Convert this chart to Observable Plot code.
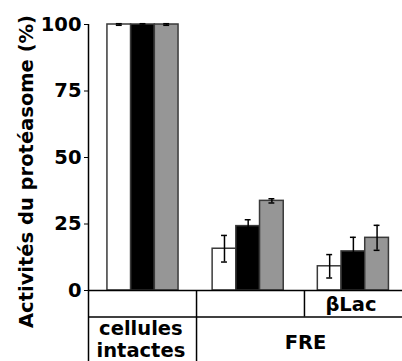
<!DOCTYPE html>
<html>
<head>
<meta charset="utf-8">
<script src="https://cdn.jsdelivr.net/npm/d3@7"></script>
<script src="https://cdn.jsdelivr.net/npm/@observablehq/plot@0.6"></script>
<style>
  html, body { margin: 0; padding: 0; background: #fff; }
  #chart svg { display: block; }
</style>
</head>
<body>
<div id="chart"></div>
<script>
// ---- data ----
const groups = ["cellules\nintactes", "FRE", "FRE βLac"];
const seriesNames = ["série 1", "série 2", "série 3"];
const seriesColors = ["#ffffff", "#000000", "#969696"];
const values = [
  [100, 100, 100],
  [15.7, 24.2, 33.7],
  [9.1, 14.7, 19.8]
];
const errors = [
  [0.3, 0.3, 0.3],
  [5.0, 2.4, 0.8],
  [4.4, 5.3, 4.7]
];
const yTicks = [0, 25, 50, 75, 100];
const yTitle = "Activités du protéasome (%)";

// table below the axis (category cells)
const tableRows = [0, -10];              // horizontal lines (y units)
const tableBottom = -27;
const colBreaks = [{x: 0.509, y1: tableBottom}, {x: 1.535, y1: -10}];
const cellLabels = [
  {text: "cellules\nintactes", x: -0.02, y: -18.2},
  {text: "FRE", x: 1.545, y: -19.2},
  {text: "βLac", x: 1.977, y: -5.1}
];

// ---- layout helpers ----
const barW = 0.2253;     // bar width in group units
const capW = 0.028;
const xDomain = [-0.518, 2.467];
const font = "'DejaVu Sans', 'Liberation Sans', Arial, sans-serif";
const fs = 19.5;

const bars = [];
groups.forEach((g, gi) => seriesNames.forEach((s, si) => {
  const x1 = gi + (si - 1.5) * barW;
  bars.push({group: g, series: s, gi, si, value: values[gi][si], err: errors[gi][si],
    x1, x2: x1 + barW, xc: x1 + barW / 2});
}));
const caps = bars.flatMap(d => [
  {x1: d.xc - capW, x2: d.xc + capW, y: d.value - d.err},
  {x1: d.xc - capW, x2: d.xc + capW, y: d.value + d.err}
]);

const chart = Plot.plot({
  width: 402,
  height: 361,
  marginLeft: 88,
  marginRight: 0,
  marginTop: 24,
  marginBottom: 71,
  style: {fontFamily: font, fontWeight: "bold", background: "#fff", overflow: "visible"},
  x: {type: "linear", domain: xDomain, axis: null},
  y: {domain: [0, 100], axis: null},
  color: {domain: seriesNames, range: seriesColors},
  marks: [
    Plot.axisY({ticks: yTicks, tickSize: 4, tickPadding: 3, fontSize: fs, fontWeight: "bold", label: null, stroke: "#000", color: "#000"}),
    Plot.rectY(bars, {x1: "x1", x2: "x2", y1: 0, y2: "value", fill: "series", stroke: "#3a3a3a", strokeWidth: 1.5}),
    Plot.ruleX(bars, {x: "xc", y1: d => d.value - d.err, y2: d => d.value + d.err, stroke: "#000", strokeWidth: 1.5}),
    Plot.ruleY(caps, {x1: "x1", x2: "x2", y: "y", stroke: "#000", strokeWidth: 1.5}),
    // y axis line and table grid
    Plot.ruleX([xDomain[0]], {y1: tableBottom, y2: 100, stroke: "#000", strokeWidth: 1.5, clip: false}),
    Plot.ruleY(tableRows, {x1: xDomain[0], x2: xDomain[1], stroke: "#000", strokeWidth: 1.5, clip: false}),
    Plot.ruleX(colBreaks, {x: "x", y1: "y1", y2: 0, stroke: "#000", strokeWidth: 1.5, clip: false}),
    Plot.text(cellLabels, {x: "x", y: "y", text: "text", fontSize: fs, fontWeight: "bold", lineHeight: 1.12, fill: "#000", clip: false}),
    Plot.text([yTitle], {frameAnchor: "left", rotate: -90, dx: -62, dy: 14, textAnchor: "middle", fontSize: fs, fontWeight: "bold", fill: "#000"})
  ]
});
document.getElementById("chart").appendChild(chart);
</script>
</body>
</html>
